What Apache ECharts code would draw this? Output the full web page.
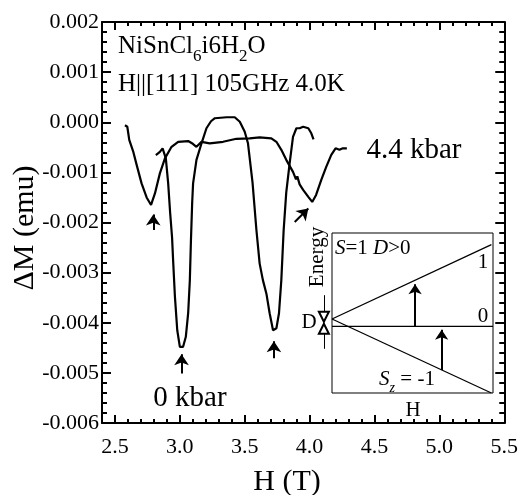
<!DOCTYPE html>
<html>
<head>
<meta charset="utf-8">
<script src="https://cdn.jsdelivr.net/npm/echarts@6/dist/echarts.min.js"></script>
<style>
html,body{margin:0;padding:0;background:#fff;}
#chartDiv{width:521px;height:495px;}
</style>
</head>
<body>
<div id="chartDiv"></div>
<script>
var FONT = 'Liberation Serif';

// H (T) / dM (emu), 4.4 kbar
var h44 = [2.577, 2.595, 2.61, 2.64, 2.667, 2.705, 2.744, 2.778, 2.808, 2.846, 2.885, 2.936, 2.987, 3.064, 3.1, 3.128, 3.167, 3.23, 3.333, 3.436, 3.538, 3.615, 3.705, 3.744, 3.782, 3.82, 3.872, 3.88, 3.895, 3.905, 3.923, 3.95, 3.99, 4.02, 4.05, 4.09, 4.128, 4.167, 4.2, 4.23, 4.256, 4.287];
var m44 = [-0.00006, -0.00009, -0.00035, -0.00058, -0.00085, -0.00122, -0.00150, -0.00165, -0.00142, -0.00102, -0.00072, -0.00049, -0.00039, -0.000375, -0.00043, -0.00049, -0.00039, -0.00042, -0.00039, -0.00033, -0.00032, -0.00030, -0.00032, -0.00039, -0.00055, -0.00075, -0.00099, -0.00102, -0.00114, -0.00108, -0.00124, -0.00135, -0.00149, -0.00159, -0.00145, -0.00115, -0.00089, -0.00065, -0.00052, -0.00055, -0.00052, -0.00052];

// 0 kbar
var h0 = [2.815, 2.846, 2.867, 2.892, 2.91, 2.925, 2.94, 2.948, 2.962, 2.98, 3.0, 3.025, 3.046, 3.064, 3.077, 3.085, 3.095, 3.102, 3.128, 3.167, 3.205, 3.24, 3.27, 3.36, 3.423, 3.462, 3.5, 3.525, 3.56, 3.59, 3.615, 3.64, 3.667, 3.692, 3.718, 3.744, 3.764, 3.782, 3.8, 3.82, 3.846, 3.872, 3.898, 3.923, 3.95, 3.99, 4.013, 4.03];
var m0 = [-0.000655, -0.00059, -0.00052, -0.00072, -0.00122, -0.00180, -0.00230, -0.00275, -0.00348, -0.00415, -0.00448, -0.00448, -0.00428, -0.00381, -0.00315, -0.00240, -0.00160, -0.00122, -0.00075, -0.00042, -0.00012, 0.00002, 0.00008, 0.00010, 0.00010, 0.00001, -0.00019, -0.00042, -0.00120, -0.00215, -0.00282, -0.00315, -0.00342, -0.00381, -0.00415, -0.00411, -0.00381, -0.00315, -0.00215, -0.00140, -0.00082, -0.00029, -0.00012, -0.00012, -0.00009, -0.00012, -0.00022, -0.00034];

// peak markers: [H tail, M tail, H tip, M tip]
var peakArrows = [
    [2.795, -0.00215, 2.795, -0.00184],
    [3.013, -0.00501, 3.013, -0.00463],
    [3.725, -0.00471, 3.725, -0.00437],
    [3.885, -0.00199, 3.99, -0.00172]
];
// gap D markers (main axes)
var gapArrows = [
    [4.11, -0.00345, 4.11, -0.00388],
    [4.11, -0.00452, 4.11, -0.00412]
];

var xMajor = [2.5, 3.0, 3.5, 4.0, 4.5, 5.0, 5.5];
var xMinor = [2.4, 2.5, 2.6, 2.7, 2.8, 2.9, 3.0, 3.1, 3.2, 3.3, 3.4, 3.5, 3.6, 3.7, 3.8, 3.9, 4.0, 4.1, 4.2, 4.3, 4.4, 4.5, 4.6, 4.7, 4.8, 4.9, 5.0, 5.1, 5.2, 5.3, 5.4, 5.5];

// inset (H, E) in box units
var levelPlus = [[0, 0.4625], [0.99, 0.927]];
var levelZero = [[0, 0.416], [1, 0.416]];
var levelMinus = [[0, 0.4625], [0.99, 0]];
var insetArrows = [
    [0.516, 0.416, 0.516, 0.68],
    [0.681, 0.144, 0.681, 0.395]
];

var zip = function(xs, ys){
    var out = [];
    for (var i = 0; i < xs.length; i++) out.push([xs[i], ys[i]]);
    return out;
};
var toLines = function(arr){
    return arr.map(function(a){ return {coords: [[a[0], a[1]], [a[2], a[3]]]}; });
};

var myChart = echarts.init(document.getElementById('chartDiv'));

var tickLabel = {fontFamily: FONT, fontSize: 22, color: '#000'};
var blackLine = {color: '#000', width: 2};
var frameLine = {show: true, onZero: false, lineStyle: {color: '#000', width: 2}};
var noLine = {show: false, onZero: false};

var option = {
    backgroundColor: '#fff',
    animation: false,
    grid: [
        {left: 102, top: 22, right: 16, bottom: 72},
        {left: 332, top: 233, width: 161, height: 160, show: true, borderColor: '#000', borderWidth: 1, backgroundColor: '#fff', z: 5}
    ],
    xAxis: [
        {type: 'value', gridIndex: 0, min: 2.4, max: 5.5, position: 'bottom',
            axisLine: noLine, splitLine: {show: false},
            axisTick: {inside: true, length: 4, lineStyle: blackLine, customValues: xMinor},
            axisLabel: {show: false}},
        {type: 'value', gridIndex: 0, min: 2.4, max: 5.5, position: 'bottom',
            axisLine: frameLine, splitLine: {show: false},
            axisTick: {inside: true, length: 8, lineStyle: blackLine, customValues: xMajor},
            axisLabel: Object.assign({margin: 13, customValues: xMajor, formatter: function(v){ return v.toFixed(1); }}, tickLabel)},
        {type: 'value', gridIndex: 0, min: 2.4, max: 5.5, position: 'top',
            axisLine: noLine, splitLine: {show: false},
            axisTick: {inside: true, length: 4, lineStyle: blackLine, customValues: xMinor},
            axisLabel: {show: false}},
        {type: 'value', gridIndex: 0, min: 2.4, max: 5.5, position: 'top',
            axisLine: frameLine, splitLine: {show: false},
            axisTick: {inside: true, length: 8, lineStyle: blackLine, customValues: xMajor},
            axisLabel: {show: false}},
        {type: 'value', gridIndex: 1, min: 0, max: 1, show: false}
    ],
    yAxis: [
        {type: 'value', gridIndex: 0, min: -0.006, max: 0.002, interval: 0.001, position: 'left',
            axisLine: frameLine, splitLine: {show: false},
            axisTick: {inside: true, length: 9, lineStyle: blackLine},
            minorTick: {show: true, splitNumber: 5, length: 5, lineStyle: {color: '#000', width: 2}},
            axisLabel: Object.assign({margin: 3, formatter: function(v){
                if (Math.abs(v) < 1e-9) v = 0;
                return v.toFixed(3);
            }}, tickLabel)},
        {type: 'value', gridIndex: 0, min: -0.006, max: 0.002, interval: 0.001, position: 'right',
            axisLine: frameLine, splitLine: {show: false},
            axisTick: {inside: true, length: 9, lineStyle: blackLine},
            minorTick: {show: true, splitNumber: 5, length: 5, lineStyle: {color: '#000', width: 2}},
            axisLabel: {show: false}},
        {type: 'value', gridIndex: 1, min: 0, max: 1, show: false}
    ],
    series: [
        {name: '4.4 kbar', type: 'line', xAxisIndex: 1, yAxisIndex: 0, data: zip(h44, m44),
            showSymbol: false, lineStyle: {color: '#000', width: 2.2}},
        {name: '0 kbar', type: 'line', xAxisIndex: 1, yAxisIndex: 0, data: zip(h0, m0),
            showSymbol: false, lineStyle: {color: '#000', width: 2.2}},
        {type: 'lines', coordinateSystem: 'cartesian2d', xAxisIndex: 1, yAxisIndex: 0,
            data: toLines(peakArrows), symbol: ['none', 'arrow'], symbolSize: 11,
            lineStyle: {color: '#000', width: 2, opacity: 1}},
        {type: 'lines', coordinateSystem: 'cartesian2d', xAxisIndex: 1, yAxisIndex: 0,
            data: toLines(gapArrows), symbol: ['none', 'emptyTriangle'], symbolSize: [8, 10],
            lineStyle: {color: '#000', width: 1, opacity: 1}},
        {type: 'line', xAxisIndex: 4, yAxisIndex: 2, data: levelPlus, showSymbol: false, z: 6,
            lineStyle: {color: '#000', width: 1.3}},
        {type: 'line', xAxisIndex: 4, yAxisIndex: 2, data: levelZero, showSymbol: false, z: 6,
            lineStyle: {color: '#000', width: 1.3}},
        {type: 'line', xAxisIndex: 4, yAxisIndex: 2, data: levelMinus, showSymbol: false, z: 6,
            lineStyle: {color: '#000', width: 1.3}},
        {type: 'lines', coordinateSystem: 'cartesian2d', xAxisIndex: 4, yAxisIndex: 2, z: 6,
            data: toLines(insetArrows), symbol: ['none', 'arrow'], symbolSize: 10,
            lineStyle: {color: '#000', width: 2, opacity: 1}}
    ],
    graphic: [
        {type: 'text', x: 118, y: 34, z: 10, style: {
            text: '{m|NiSnCl}{s|6}{m|i6H}{s|2}{m|O}', fill: '#000',
            rich: {
                m: {fontFamily: FONT, fontSize: 25, lineHeight: 25, verticalAlign: 'top'},
                s: {fontFamily: FONT, fontSize: 17, verticalAlign: 'top', padding: [14, 0, 0, 0]}
            }}},
        {type: 'text', x: 118, y: 84, z: 10, style: {
            text: 'H||[111] 105GHz 4.0K', fontFamily: FONT, fontSize: 25, fill: '#000', textVerticalAlign: 'middle'}},
        {type: 'text', x: 414, y: 150, z: 10, style: {
            text: '4.4 kbar', fontFamily: FONT, fontSize: 29, fill: '#000', textAlign: 'center', textVerticalAlign: 'middle'}},
        {type: 'text', x: 190, y: 398, z: 10, style: {
            text: '0 kbar', fontFamily: FONT, fontSize: 29, fill: '#000', textAlign: 'center', textVerticalAlign: 'middle'}},
        {type: 'text', x: 287, y: 482, z: 10, style: {
            text: 'H (T)', fontFamily: FONT, fontSize: 30, fill: '#000', textAlign: 'center', textVerticalAlign: 'middle'}},
        {type: 'text', x: 25, y: 228, rotation: Math.PI / 2, z: 10, style: {
            text: '\u0394M (emu)', fontFamily: FONT, fontSize: 30, fill: '#000', textAlign: 'center', textVerticalAlign: 'middle'}},
        {type: 'text', x: 335, y: 248, z: 10, style: {
            text: '{i|S}=1 {i|D}>0', fontFamily: FONT, fontSize: 21, fill: '#000', textVerticalAlign: 'middle',
            rich: {i: {fontFamily: FONT, fontSize: 21, fontStyle: 'italic'}}}},
        {type: 'text', x: 483, y: 262, z: 10, style: {
            text: '1', fontFamily: FONT, fontSize: 21, fill: '#000', textAlign: 'center', textVerticalAlign: 'middle'}},
        {type: 'text', x: 483, y: 316, z: 10, style: {
            text: '0', fontFamily: FONT, fontSize: 21, fill: '#000', textAlign: 'center', textVerticalAlign: 'middle'}},
        {type: 'text', x: 407, y: 369, z: 10, style: {
            text: '{i|S}{s|z}{m| = -1}', fill: '#000', textAlign: 'center',
            rich: {
                i: {fontFamily: FONT, fontSize: 21, lineHeight: 21, fontStyle: 'italic', verticalAlign: 'top'},
                m: {fontFamily: FONT, fontSize: 21, lineHeight: 21, verticalAlign: 'top'},
                s: {fontFamily: FONT, fontSize: 14, fontStyle: 'italic', verticalAlign: 'top', padding: [12, 0, 0, 0]}
            }}},
        {type: 'text', x: 413, y: 410, z: 10, style: {
            text: 'H', fontFamily: FONT, fontSize: 21, fill: '#000', textAlign: 'center', textVerticalAlign: 'middle'}},
        {type: 'text', x: 317, y: 257, rotation: Math.PI / 2, z: 10, style: {
            text: 'Energy', fontFamily: FONT, fontSize: 21, fill: '#000', textAlign: 'center', textVerticalAlign: 'middle'}},
        {type: 'text', x: 309, y: 322, z: 10, style: {
            text: 'D', fontFamily: FONT, fontSize: 21, fill: '#000', textAlign: 'center', textVerticalAlign: 'middle'}}
    ]
};

myChart.setOption(option);
</script>
</body>
</html>
